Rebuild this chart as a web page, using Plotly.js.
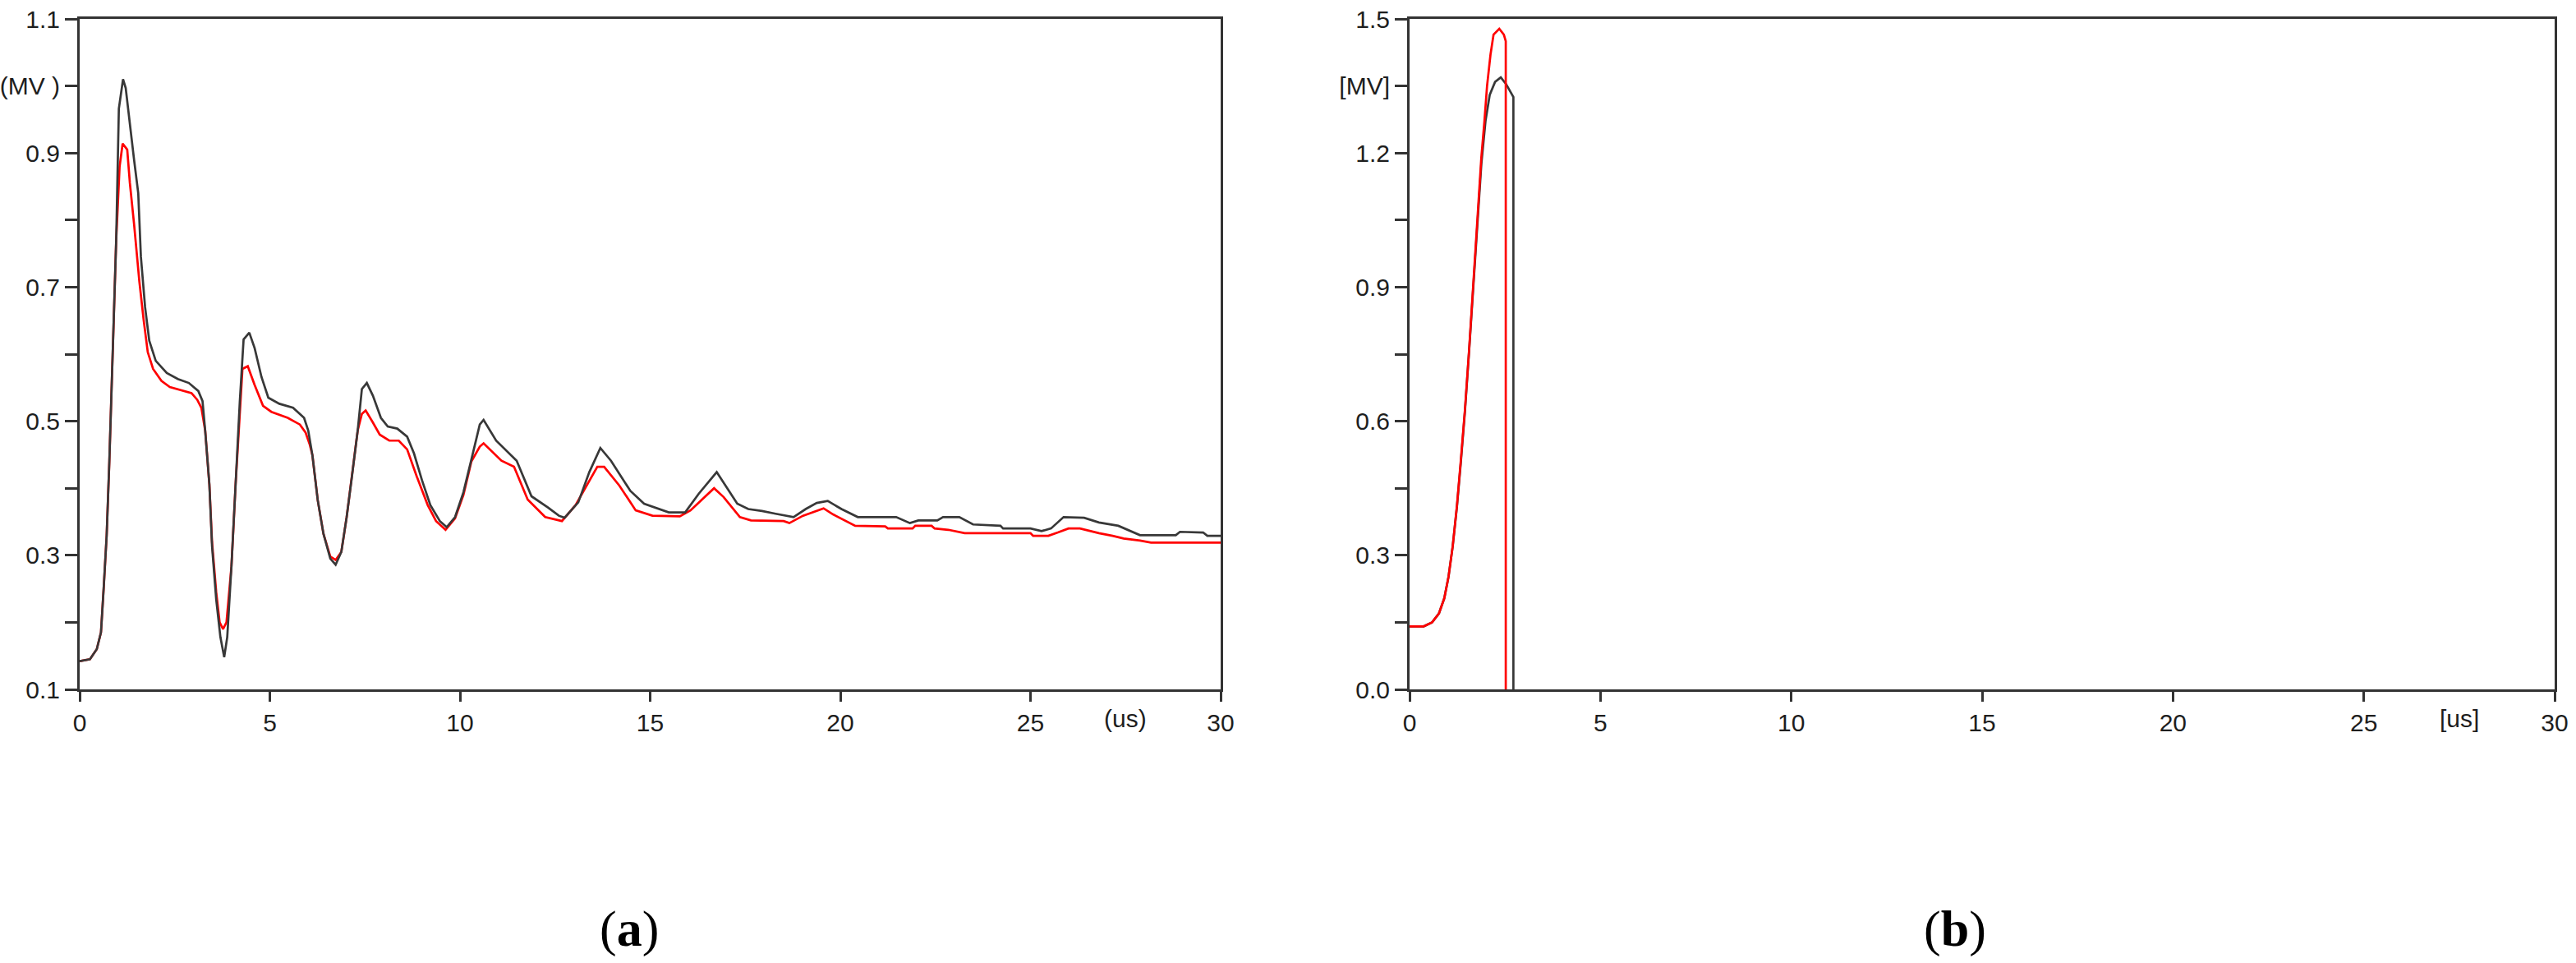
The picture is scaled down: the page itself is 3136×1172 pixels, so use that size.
<!DOCTYPE html>
<html>
<head>
<meta charset="utf-8">
<script src="https://cdn.plot.ly/plotly-3.0.1.min.js"></script>
<style>html,body{margin:0;padding:0;background:#fff;}#chart{width:3136px;height:1172px;}</style>
</head>
<body>
<div id="chart"></div>
<script>
// ---- Panel (a) data: time (us) and voltage (MV) ----
const tA_black = [0,0.27,0.45,0.56,0.63,0.71,0.78,0.89,0.96,1.03,1.14,1.21,1.32,1.43,1.54,1.61,1.72,1.83,2.0,2.29,2.58,2.87,3.12,3.23,3.30,3.41,3.48,3.59,3.70,3.80,3.88,3.99,4.10,4.21,4.31,4.46,4.60,4.78,4.96,5.25,5.61,5.90,6.01,6.12,6.26,6.41,6.59,6.73,6.88,7.02,7.16,7.31,7.42,7.55,7.71,7.92,8.1,8.35,8.61,8.79,9.0,9.22,9.47,9.65,9.87,10.09,10.3,10.52,10.62,10.95,11.49,11.88,12.32,12.6,12.75,13.11,13.4,13.69,13.97,14.48,14.84,15.49,15.92,16.28,16.75,17.0,17.29,17.58,17.94,18.3,18.77,19.09,19.38,19.67,20.03,20.46,21.47,21.83,22.05,22.55,22.7,23.13,23.49,24.21,24.28,25.0,25.29,25.54,25.87,26.41,26.8,27.31,27.88,28.82,28.93,29.54,29.65,30.0];
const vA_black = [0.142,0.145,0.16,0.185,0.25,0.33,0.44,0.65,0.77,0.966,1.01,0.997,0.94,0.89,0.84,0.745,0.67,0.62,0.59,0.572,0.563,0.557,0.545,0.53,0.486,0.406,0.314,0.234,0.178,0.148,0.178,0.283,0.406,0.529,0.622,0.632,0.609,0.566,0.535,0.526,0.52,0.505,0.486,0.449,0.382,0.332,0.295,0.286,0.305,0.357,0.418,0.486,0.548,0.557,0.538,0.505,0.492,0.489,0.477,0.452,0.412,0.375,0.351,0.342,0.357,0.394,0.443,0.495,0.502,0.471,0.441,0.388,0.371,0.359,0.356,0.379,0.424,0.46,0.441,0.396,0.377,0.364,0.364,0.392,0.424,0.402,0.377,0.369,0.366,0.362,0.357,0.369,0.378,0.381,0.369,0.357,0.357,0.348,0.352,0.352,0.357,0.357,0.346,0.344,0.34,0.34,0.336,0.34,0.357,0.356,0.349,0.344,0.33,0.33,0.335,0.334,0.329,0.329];
const tA_red = [0,0.27,0.45,0.56,0.63,0.71,0.78,0.89,0.96,1.05,1.13,1.25,1.32,1.43,1.57,1.68,1.79,1.93,2.15,2.37,2.73,2.94,3.09,3.2,3.30,3.41,3.48,3.59,3.68,3.77,3.86,3.99,4.10,4.21,4.28,4.42,4.6,4.82,5.04,5.47,5.79,5.94,6.05,6.12,6.26,6.41,6.59,6.73,6.88,7.02,7.16,7.31,7.42,7.52,7.71,7.89,8.14,8.39,8.61,8.86,9.15,9.37,9.62,9.87,10.09,10.3,10.52,10.62,11.09,11.42,11.78,12.24,12.68,13.04,13.61,13.79,14.19,14.62,15.06,15.78,16.06,16.68,16.93,17.36,17.65,18.51,18.66,19.02,19.56,19.81,20.39,21.18,21.25,21.9,21.97,22.4,22.48,22.84,23.27,25.0,25.07,25.47,25.72,26.0,26.3,26.44,26.8,27.16,27.45,27.88,28.17,30.0];
const vA_red = [0.142,0.145,0.16,0.185,0.25,0.33,0.44,0.65,0.77,0.88,0.914,0.905,0.855,0.794,0.708,0.652,0.603,0.578,0.56,0.551,0.545,0.542,0.532,0.52,0.486,0.406,0.32,0.245,0.2,0.19,0.2,0.283,0.406,0.52,0.578,0.582,0.554,0.523,0.514,0.505,0.495,0.483,0.465,0.449,0.382,0.332,0.298,0.293,0.305,0.357,0.418,0.486,0.511,0.516,0.498,0.48,0.471,0.471,0.458,0.418,0.375,0.351,0.338,0.355,0.39,0.44,0.462,0.467,0.441,0.432,0.383,0.357,0.351,0.375,0.432,0.432,0.404,0.367,0.359,0.358,0.367,0.4,0.387,0.357,0.352,0.351,0.348,0.359,0.37,0.361,0.344,0.343,0.34,0.34,0.344,0.344,0.34,0.338,0.333,0.333,0.329,0.329,0.334,0.34,0.34,0.338,0.333,0.329,0.325,0.322,0.319,0.319];

// ---- Panel (b) data ----
const tB_black = [0,0.37,0.59,0.77,0.91,1.02,1.13,1.24,1.34,1.45,1.56,1.67,1.77,1.88,1.99,2.10,2.24,2.39,2.53,2.72,2.72];
const vB_black = [0.141,0.141,0.15,0.17,0.204,0.252,0.32,0.408,0.505,0.621,0.757,0.903,1.049,1.175,1.272,1.33,1.359,1.369,1.354,1.325,0];
const tB_red = [0,0.37,0.59,0.77,0.91,1.02,1.13,1.24,1.34,1.45,1.56,1.67,1.77,1.88,1.96,2.03,2.12,2.2,2.35,2.47,2.52,2.52];
const vB_red = [0.141,0.141,0.15,0.17,0.204,0.252,0.32,0.41,0.51,0.625,0.76,0.905,1.05,1.19,1.27,1.35,1.42,1.465,1.478,1.465,1.45,0];

// ---- tick labels ----
const xTicks = [0,5,10,15,20,25,30];
const yTicksA = [0.1,0.2,0.3,0.4,0.5,0.6,0.7,0.8,0.9,1.0,1.1];
const yTextA = ['0.1','','0.3','','0.5','','0.7','','0.9','(MV )','1.1'];
const yTicksB = [0,0.15,0.3,0.45,0.6,0.75,0.9,1.05,1.2,1.35,1.5];
const yTextB = ['0.0','','0.3','','0.6','','0.9','','1.2','[MV]','1.5'];
const unitA = '(us)', unitB = '[us]';
const labelA = '(<b>a</b>)', labelB = '(<b>b</b>)';

const BLACK = '#383838', RED = '#ff0000', AX = '#333333';
const tickFont = {family: 'Liberation Sans, Arial, sans-serif', size: 30, color: '#1e1e1e'};
const LW = 2.7;

const traces = [
  {x: tA_red, y: vA_red, xaxis: 'x', yaxis: 'y', mode: 'lines', line: {color: RED, width: LW}},
  {x: tA_black, y: vA_black, xaxis: 'x', yaxis: 'y', mode: 'lines', line: {color: BLACK, width: LW}},
  {x: tB_black, y: vB_black, xaxis: 'x2', yaxis: 'y2', mode: 'lines', line: {color: BLACK, width: LW}},
  {x: tB_red, y: vB_red, xaxis: 'x2', yaxis: 'y2', mode: 'lines', line: {color: RED, width: LW}}
];

function xax(domain, anchor) {
  return {domain: domain, anchor: anchor, range: [0, 30], tickmode: 'array', tickvals: xTicks,
    ticks: 'outside', ticklen: 12, tickwidth: 3, tickcolor: AX, showline: true, linewidth: 3, linecolor: AX,
    mirror: true, showgrid: false, zeroline: false, tickfont: tickFont, fixedrange: true};
}
function yax(domain, anchor, range, vals, text) {
  return {domain: domain, anchor: anchor, range: range, tickmode: 'array', tickvals: vals, ticktext: text,
    ticks: 'outside', ticklen: 15, tickwidth: 3, tickcolor: AX, showline: true, linewidth: 3, linecolor: AX,
    mirror: true, showgrid: false, zeroline: false, tickfont: tickFont, fixedrange: true};
}

const yDom = [1 - 839/1172, 1 - 23/1172];
const layout = {
  width: 3136, height: 1172,
  margin: {l: 0, r: 0, t: 0, b: 0},
  paper_bgcolor: '#ffffff', plot_bgcolor: '#ffffff',
  showlegend: false,
  xaxis: xax([97/3136, 1486/3136], 'y'),
  yaxis: yax(yDom, 'x', [0.1, 1.1], yTicksA, yTextA),
  xaxis2: xax([1716/3136, 3110/3136], 'y2'),
  yaxis2: yax(yDom, 'x2', [0, 1.5], yTicksB, yTextB),
  annotations: [
    {text: unitA, x: 27.5, xref: 'x', y: 1 - 875/1172, yref: 'paper', showarrow: false, xanchor: 'center', yanchor: 'middle', font: tickFont},
    {text: unitB, x: 27.5, xref: 'x2', y: 1 - 875/1172, yref: 'paper', showarrow: false, xanchor: 'center', yanchor: 'middle', font: tickFont},
    {text: labelA, x: 766/3136, xref: 'paper', y: 1 - 1130/1172, yref: 'paper', showarrow: false, xanchor: 'center', yanchor: 'middle', font: {family: 'Liberation Serif, serif', size: 62, color: '#000'}},
    {text: labelB, x: 2380/3136, xref: 'paper', y: 1 - 1130/1172, yref: 'paper', showarrow: false, xanchor: 'center', yanchor: 'middle', font: {family: 'Liberation Serif, serif', size: 62, color: '#000'}}
  ]
};

Plotly.newPlot('chart', traces, layout, {staticPlot: true, displayModeBar: false});
</script>
</body>
</html>
